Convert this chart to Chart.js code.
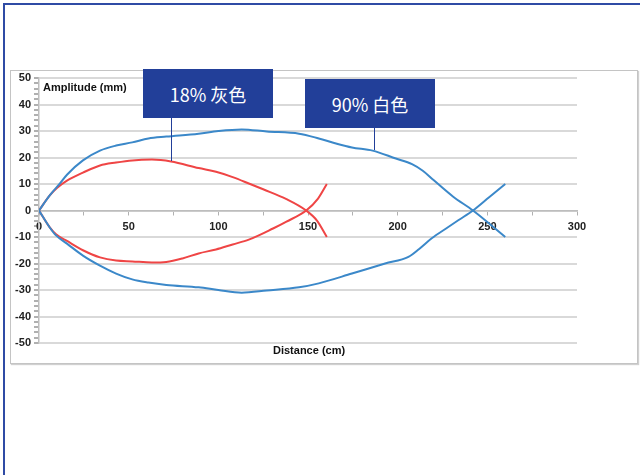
<!DOCTYPE html>
<html>
<head>
<meta charset="utf-8">
<script src="https://cdn.jsdelivr.net/npm/chart.js@4.4.1/dist/chart.umd.min.js"></script>
<style>
  body { margin: 0; background: #fff; }
  #wrap { position: relative; width: 640px; height: 475px; overflow: hidden; }
  #frameTop { position: absolute; left: 3px; top: 3px; width: 637px; height: 2px; background: #2f4ba5; }
  #frameLeft { position: absolute; left: 3px; top: 3px; width: 2px; height: 472px; background: #2f4ba5; }
  #box { position: absolute; left: 10px; top: 70px; width: 626px; height: 292px; border: 1px solid #c4c4c4; box-shadow: 1px 1px 1px #d0d0d0; }
  canvas { position: absolute; left: 0; top: 0; }
  .lbl { position: absolute; font: bold 11px "Liberation Sans", Arial, sans-serif; color: #111; white-space: nowrap; }
  .callout { position: absolute; background: #223f99; color: #fff; font: 18px "Noto Sans CJK SC", "Noto Sans", sans-serif;
             display: flex; align-items: center; justify-content: center; }
  .leader { position: absolute; width: 1px; background: #223f99; }
</style>
</head>
<body>
<div id="wrap">
  <div id="frameTop"></div>
  <div id="frameLeft"></div>
  <div id="box"></div>
  <canvas id="chart" width="640" height="475"></canvas>
  <div class="lbl" style="left:43px; top:81px;">Amplitude (mm)</div>
  <div class="lbl" style="left:273px; top:344px;">Distance (cm)</div>
  <div class="leader" style="left:171px; top:117px; height:44px;"></div>
  <div class="callout" style="left:143px; top:69px; width:130px; height:49px;">18% 灰色</div>
  <div class="leader" style="left:374px; top:127px; height:23px;"></div>
  <div class="callout" style="left:305px; top:79px; width:130px; height:49px;">90% 白色</div>
</div>
<script>
// 90% white target
const whiteUpperX = [0, 6, 11.7, 15.6, 24.5, 34, 43, 52, 61, 71, 89, 100, 113, 127, 145, 156, 165.6, 174.5, 186, 199, 208, 214, 220, 230.8, 242, 260];
const whiteUpperY = [0, 5.7, 10.2, 13.5, 18.9, 22.6, 24.5, 25.7, 27.2, 27.9, 29, 30, 30.6, 29.8, 29, 27.2, 25.3, 23.8, 22.6, 19.6, 17.5, 15, 11.5, 5.3, 0, -10];
const whiteLowerX = [0, 6, 9.5, 15.6, 24.5, 34, 43, 52, 61, 71, 89, 100, 113, 127, 145, 156, 174.5, 193, 206, 212, 219, 227, 234, 242, 251, 260];
const whiteLowerY = [0, -6.4, -9.4, -12.5, -17, -20.8, -23.8, -26, -27.2, -28.1, -29, -30, -31, -30.2, -29, -27.5, -23.8, -20, -17.5, -14.5, -10.5, -6.8, -3.6, 0, 5, 10];

// 18% grey target
const greyUpperX = [0, 6, 10, 15.6, 24.5, 34, 43, 52, 63, 73.6, 89, 98.7, 108, 117, 125, 138, 149, 155, 160.5];
const greyUpperY = [0, 5.7, 8.5, 11.3, 14.3, 17, 18.1, 18.9, 19.2, 18.5, 16, 14.6, 12.6, 10.2, 8, 4.3, 0, -3.8, -10];
const greyLowerX = [0, 6, 9.5, 15.6, 24.5, 34, 43, 52, 63, 71, 80, 89, 98.7, 108, 117, 130.5, 138, 149, 155.6, 160.5];
const greyLowerY = [0, -6.4, -9, -11.5, -15, -17.7, -18.9, -19.2, -19.6, -19.4, -18.1, -16.2, -14.7, -12.8, -11, -6.8, -4.2, 0, 4.5, 10];

const blue = '#3b88c9';
const red = '#ef4545';
const tickFont = { family: '"Liberation Sans", Arial, sans-serif', size: 11, weight: 'bold' };

function pairs(xs, ys) {
  return xs.map((x, i) => ({ x: x, y: ys[i] }));
}

function line(xs, ys, color) {
  return {
    data: pairs(xs, ys),
    showLine: true,
    borderColor: color,
    borderWidth: 2,
    pointRadius: 0,
    cubicInterpolationMode: 'monotone',
    fill: false
  };
}

new Chart(document.getElementById('chart'), {
  type: 'scatter',
  data: {
    datasets: [
      line(whiteUpperX, whiteUpperY, blue),
      line(whiteLowerX, whiteLowerY, blue),
      line(greyUpperX, greyUpperY, red),
      line(greyLowerX, greyLowerY, red)
    ]
  },
  options: {
    responsive: false,
    animation: false,
    layout: { padding: { left: 10, right: 63, top: 78, bottom: 132 } },
    plugins: { legend: { display: false }, tooltip: { enabled: false } },
    scales: {
      x: {
        type: 'linear',
        min: 0,
        max: 300,
        position: { y: 0 },
        ticks: {
          stepSize: 25,
          autoSkip: false,
          maxRotation: 0,
          padding: 6,
          font: tickFont,
          color: '#222',
          callback: v => (v % 50 === 0 ? v : '')
        },
        grid: { drawOnChartArea: false, tickLength: 4, tickColor: '#b0b0b0' },
        border: { color: '#bdbdbd', width: 1.5 }
      },
      y: {
        min: -50,
        max: 50,
        afterFit: s => { s.width = 29; },
        ticks: {
          stepSize: 2,
          autoSkip: false,
          padding: 3,
          font: tickFont,
          color: '#222',
          callback: v => (v % 10 === 0 ? v : '')
        },
        grid: {
          color: c => (c.tick && c.tick.value % 10 === 0 ? '#d9d9d9' : 'rgba(0,0,0,0)'),
          lineWidth: 2,
          tickLength: 5,
          tickColor: '#b0b0b0'
        },
        border: { color: '#bdbdbd', width: 1.5 }
      }
    }
  }
});
</script>
</body>
</html>
